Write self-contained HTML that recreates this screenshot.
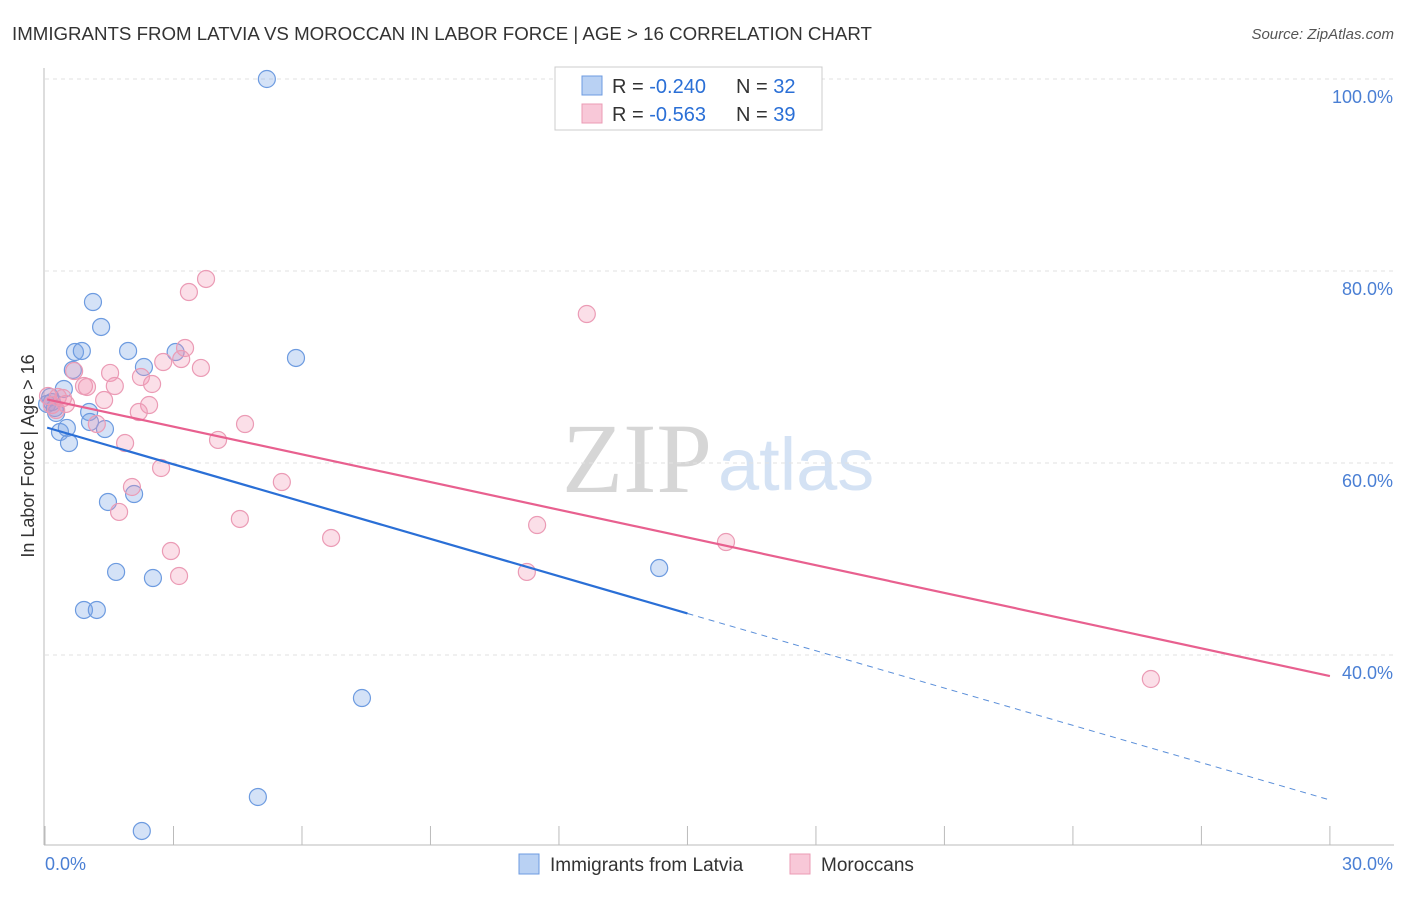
<!DOCTYPE html>
<html><head><meta charset="utf-8"><style>
body{margin:0;background:#fff;font-family:"Liberation Sans",sans-serif}
svg text{font-family:"Liberation Sans",sans-serif}
</style></head><body>
<svg id="c" width="1406" height="892">
<text x="12" y="40" font-size="18.7" fill="#333">IMMIGRANTS FROM LATVIA VS MOROCCAN IN LABOR FORCE | AGE &gt; 16 CORRELATION CHART</text>
<text x="1394" y="39" font-size="15" fill="#555" font-style="italic" text-anchor="end">Source: ZipAtlas.com</text>
<text x="712" y="492" font-size="100" fill="#d6d6d6" text-anchor="end" style="font-family:'Liberation Serif',serif">ZIP</text>
<text x="718" y="490" font-size="74" fill="#d4e2f4">atlas</text>
<text transform="translate(34,456) rotate(-90)" font-size="18" fill="#333" text-anchor="middle">In Labor Force | Age &gt; 16</text>
<g id="grid"></g><g id="pts"></g><g id="lines"></g>
<rect x="555" y="67" width="267" height="63" fill="#fff" stroke="#ccc"/>
<rect x="582" y="76" width="20" height="19" fill="#b9d1f3" stroke="#6d9be0"/>
<rect x="582" y="104" width="20" height="19" fill="#f8c8d8" stroke="#eb9bb5"/>
<text x="612" y="93" font-size="20" fill="#333">R = <tspan fill="#2a6fd6">-0.240</tspan><tspan x="736">N = </tspan><tspan fill="#2a6fd6">32</tspan></text>
<text x="612" y="121" font-size="20" fill="#333">R = <tspan fill="#2a6fd6">-0.563</tspan><tspan x="736">N = </tspan><tspan fill="#2a6fd6">39</tspan></text>
<rect x="519" y="854" width="20" height="20" fill="#b9d1f3" stroke="#6d9be0"/>
<text x="550" y="871" font-size="19" fill="#333">Immigrants from Latvia</text>
<rect x="790" y="854" width="20" height="20" fill="#f8c8d8" stroke="#eb9bb5"/>
<text x="821" y="871" font-size="19" fill="#333">Moroccans</text>
<text x="45" y="870" font-size="18" fill="#4a7fd4">0.0%</text>
<text x="1393" y="870" font-size="18" fill="#4a7fd4" text-anchor="end">30.0%</text>
</svg>
<script>
const yTicks=[100,80,60,40];
const latviaX=[5.18,1.12,1.31,0.70,0.86,1.94,3.05,5.86,2.31,0.65,0.44,0.12,0.05,0.23,0.26,1.03,1.05,1.40,0.35,0.51,0.56,1.47,2.08,1.66,2.52,0.91,1.21,14.34,7.40,4.97,2.26,0.16];
const latviaY=[100,76.77,74.17,71.56,71.67,71.67,71.56,70.94,70.0,69.69,67.71,66.88,66.15,65.73,65.21,65.31,64.27,63.54,63.23,63.65,62.08,55.94,56.77,48.65,48.02,44.69,44.69,49.06,35.52,25.21,21.67,66.35];
const morX=[3.76,3.36,12.65,3.27,3.18,2.76,3.64,1.52,2.24,2.50,1.63,0.91,0.68,0.98,0.07,0.30,0.16,0.49,1.38,2.43,2.19,1.21,4.67,4.04,1.87,2.71,5.53,2.03,1.73,4.55,6.68,11.49,15.90,2.94,11.25,3.13,25.82,0.26,0.42];
const morY=[79.17,77.81,75.52,71.98,70.83,70.52,69.90,69.38,68.96,68.23,68.02,68.02,69.58,67.92,66.98,66.88,66.04,66.15,66.56,66.04,65.31,64.06,64.06,62.40,62.08,59.48,58.02,57.50,54.90,54.17,52.19,53.54,51.77,50.83,48.65,48.23,37.50,65.52,66.77];
const latviaTrend=[63.75,24.9];
const morTrend=[66.67,37.81];
const NS='http://www.w3.org/2000/svg';
const X=v=>45+v*42.83, Y=v=>79+(100-v)*9.6;
function mk(t,a,p){const e=document.createElementNS(NS,t);for(const k in a)e.setAttribute(k,a[k]);p.appendChild(e);return e;}
const g=document.getElementById('grid');
yTicks.forEach(t=>{
 let l=mk('line',{x1:45,x2:1394,y1:Y(t),y2:Y(t),stroke:'#e2e2e2','stroke-dasharray':'4,4'},g);
 
 
 let tx=mk('text',{x:1393,y:Y(t)+24,'font-size':18,fill:'#4a7fd4','text-anchor':'end'},g);
 tx.textContent=t.toFixed(1)+'%';
 
 
});
let ax=mk('line',{x1:44,x2:44,y1:68,y2:845,stroke:'#bbb'},g);


let bx=mk('line',{x1:44,x2:1394,y1:845,y2:845,stroke:'#bbb'},g);


for(let i=0;i<=30;i+=3){let t=mk('line',{x1:X(i),x2:X(i),y1:826,y2:845,stroke:'#bbb'},g);
 
 }
const p=document.getElementById('pts');
latviaX.forEach((x,i)=>{let c=mk('circle',{cx:X(x),cy:Y(latviaY[i]),r:8.5,fill:'rgba(120,165,230,0.32)',stroke:'#6d9be0','stroke-width':1.2},p);
 
 });
morX.forEach((x,i)=>{let c=mk('circle',{cx:X(x),cy:Y(morY[i]),r:8.5,fill:'rgba(242,150,180,0.3)',stroke:'#eb9bb5','stroke-width':1.2},p);
 
 });
const L=document.getElementById('lines');
const bv=x=>latviaTrend[0]+(latviaTrend[1]-latviaTrend[0])*x/30;
let b1=mk('line',{x1:X(0.05),y1:Y(bv(0.05)),x2:X(15),y2:Y(bv(15)),stroke:'#2a6fd6','stroke-width':2.2},L);


let b2=mk('line',{x1:X(15),y1:Y(bv(15)),x2:X(30),y2:Y(bv(30)),stroke:'#5b8fd9','stroke-width':1,'stroke-dasharray':'6,5'},L);


const mv=x=>morTrend[0]+(morTrend[1]-morTrend[0])*x/30;
let m1=mk('line',{x1:X(0.05),y1:Y(mv(0.05)),x2:X(30),y2:Y(mv(30)),stroke:'#e8608f','stroke-width':2.2},L);


</script>
</body></html>
